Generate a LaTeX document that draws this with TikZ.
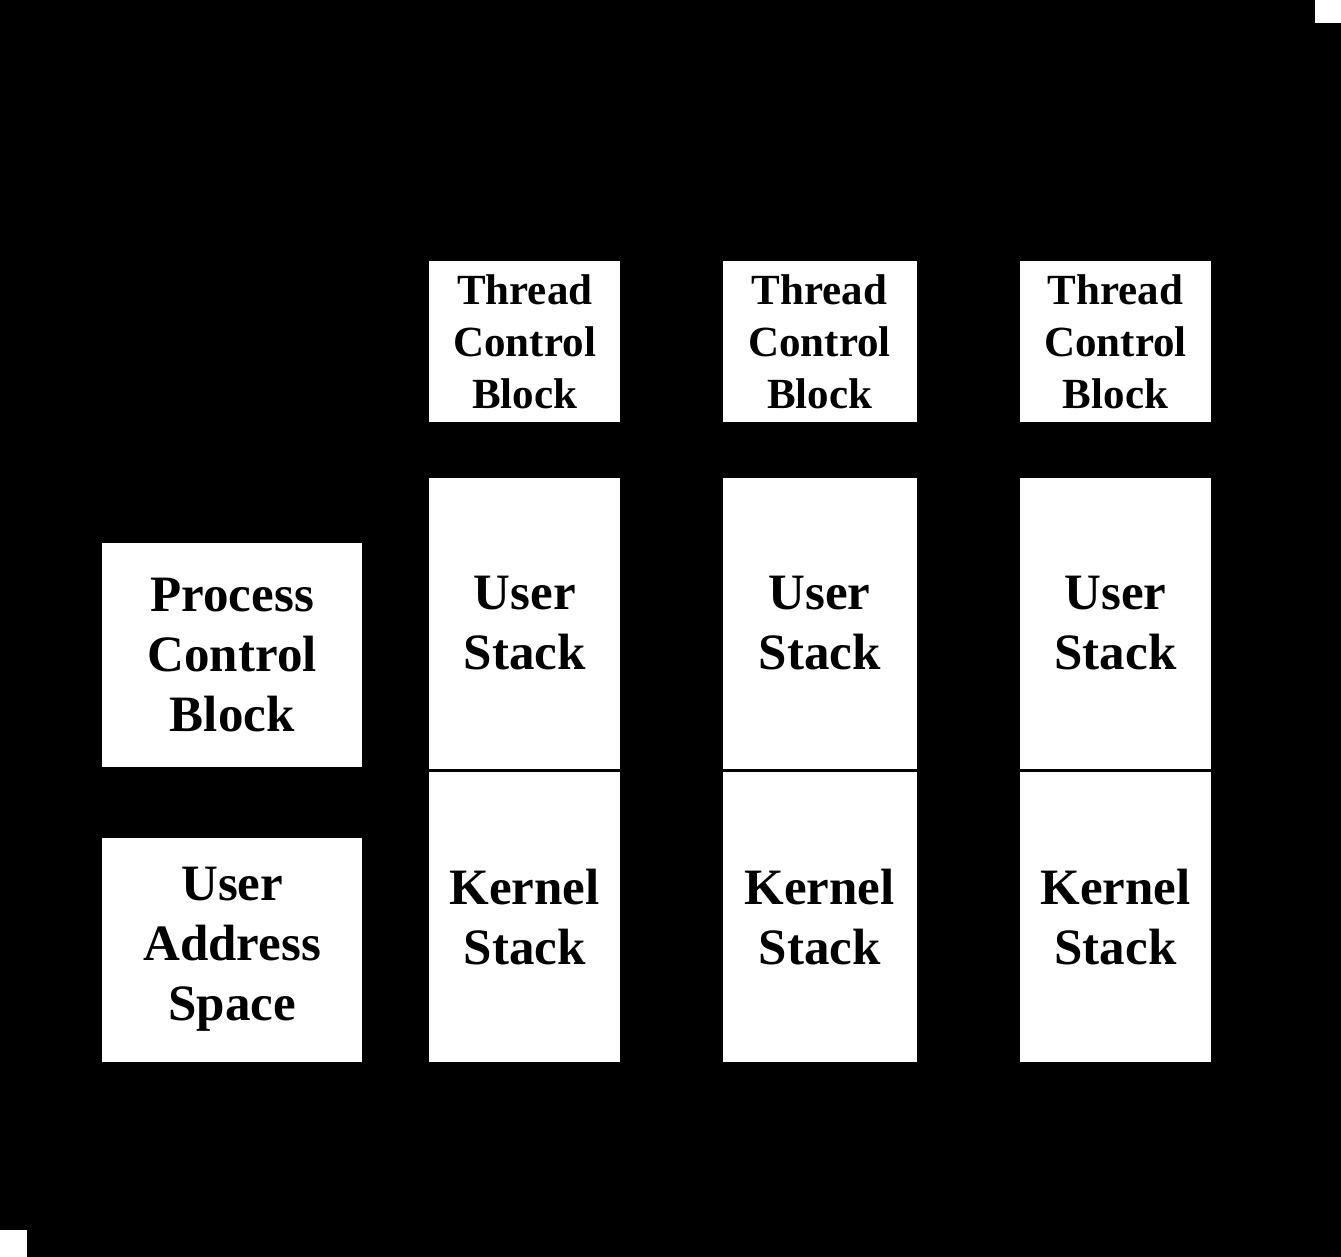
\documentclass[tikz,border=0pt]{standalone}
\usepackage{fontspec}
\setmainfont{Liberation Serif}
\usetikzlibrary{positioning}

\begin{document}
\begin{tikzpicture}[x=1pt,y=-1pt]
	% black page and the two corner marks
	\fill[black] (0,0) rectangle (1341,1257);
	\fill[white] (1315,0) rectangle (1341,23);
	\fill[white] (0,1230) rectangle (27,1257);

	\begin{scope}[every node/.style={rectangle,fill=white,inner sep=0pt,align=center,minimum width=191pt,font=\bfseries\fontsize{51}{60}\selectfont}]
		\node[minimum width=260pt,minimum height=224pt,anchor=north west] (PCB) at (102,543) {Process\\Control\\Block};
		\node[minimum width=260pt,minimum height=224pt,below =70pt of PCB] (UAS) {User\\Address\\Space};

		\node[minimum height=161pt,anchor=north west,font=\bfseries\fontsize{43}{52}\selectfont] (TCB1) at (429,261) {Thread\\Control\\Block};
		\node[minimum height=291pt,below =55pt of TCB1] (US1) {User\\Stack};
		\node[minimum height=290pt,below =3pt of US1] (KS1) {Kernel\\Stack};

		\node[minimum width=194pt,minimum height=161pt,right =102pt of TCB1,font=\bfseries\fontsize{43}{52}\selectfont] (TCB2) {Thread\\Control\\Block};
		\node[minimum width=194pt,minimum height=291pt,below =55pt of TCB2] (US2) {User\\Stack};
		\node[minimum width=194pt,minimum height=290pt,below =3pt of US2] (KS2) {Kernel\\Stack};

		\node[minimum height=161pt,right =103pt of TCB2,font=\bfseries\fontsize{43}{52}\selectfont] (TCB3) {Thread\\Control\\Block};
		\node[minimum height=291pt,below =55pt of TCB3] (US3) {User\\Stack};
		\node[minimum height=290pt,below =3pt of US3] (KS3) {Kernel\\Stack};
	\end{scope}
\end{tikzpicture}
\end{document}
